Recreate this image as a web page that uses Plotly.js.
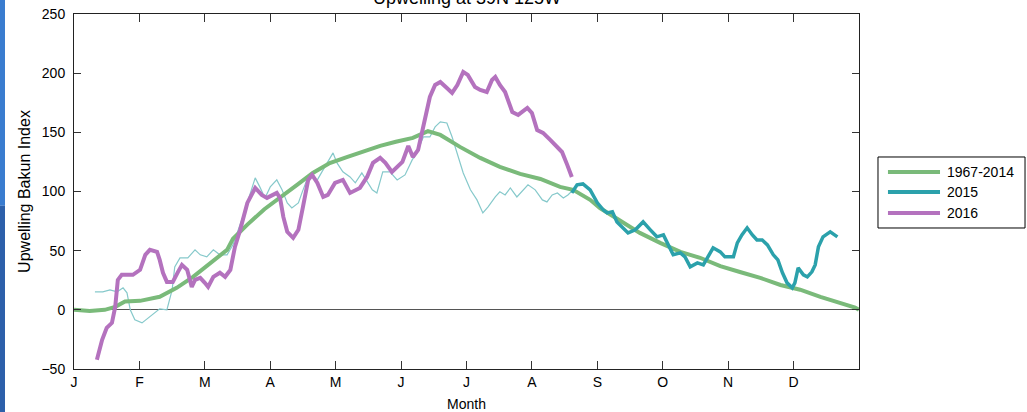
<!DOCTYPE html>
<html>
<head>
<meta charset="utf-8">
<script src="https://cdn.plot.ly/plotly-3.0.1.min.js"></script>
<style>
html,body{margin:0;padding:0;background:#fff;}
#chart{width:1027px;height:412px;}
</style>
</head>
<body>
<div id="chart"></div>
<script>
// Month tick labels (x is measured in months since 1 Jan)
const monthTicks = [0,1,2,3,4,5,6,7,8,9,10,11];
const monthLabels = ["J","F","M","A","M","J","J","A","S","O","N","D"];
const yTicks = [-50,0,50,100,150,200,250];

// 1967-2014 climatology
const climX = [0.00,0.24,0.47,0.63,0.78,1.01,1.31,1.57,1.82,2.08,2.34,2.43,2.65,2.91,3.15,3.41,3.65,3.91,4.17,4.42,4.68,4.92,5.18,5.41,5.60,5.90,6.21,6.51,6.82,7.13,7.43,7.63,7.89,8.04,8.35,8.65,8.96,9.27,9.57,9.88,10.18,10.49,10.80,11.10,11.41,11.71,11.94,12.0];
const climY = [0,-1,0,2.5,7,7.6,11,18.6,27.9,39.7,50.7,60,72,85,94.6,105.6,115.7,124,129,134,138.5,142,145.3,151,147.8,137.7,128.4,120.8,114.9,110.6,103.9,101.4,93,86,75,65,56.6,49,44,37,32,27,21,17,11,6,2,0];

// 2015, first part (thin line)
const y2015aX = [0.32,0.44,0.55,0.66,0.75,0.81,0.86,0.93,1.04,1.13,1.24,1.31,1.42,1.50,1.54,1.62,1.74,1.85,1.93,2.03,2.13,2.23,2.34,2.43,2.58,2.69,2.77,2.84,2.92,3.00,3.10,3.18,3.26,3.33,3.43,3.49,3.56,3.64,3.72,3.79,3.87,3.96,4.02,4.11,4.22,4.30,4.40,4.48,4.56,4.63,4.72,4.83,4.94,5.06,5.17,5.24,5.34,5.44,5.52,5.60,5.70,5.78,5.87,5.95,6.06,6.16,6.25,6.33,6.44,6.51,6.59,6.67,6.77,6.87,6.94,7.05,7.16,7.23,7.31,7.39,7.48,7.55,7.63];
const y2015aY = [15.2,15.2,16.9,15.2,18.6,14.4,0,-8.4,-11,-6.8,-1.7,0.8,0,16.9,36.3,43.9,43.9,50.7,46.5,44.8,50.7,46.5,46.5,54.9,78.5,98.8,111.5,103.9,94.6,103.9,109.8,101.4,90.4,86.1,90.4,99.7,109.8,112.3,109.8,116.6,124.2,132.6,124.2,116.6,112.3,107.3,115.7,108.1,101.4,98.8,116.6,116.6,109.8,114,126.7,132.6,146.1,146.1,154.6,158.8,157.9,146.1,129.2,115.7,101.4,92.9,81.9,87,95.4,99.7,97.1,103,95.4,101.4,105.6,101.4,92.9,91.2,97.1,98.8,94.6,97.1,101.4];

// 2015, second part (thick line)
const y2015bX = [7.61,7.69,7.78,7.89,8.00,8.09,8.15,8.23,8.30,8.38,8.47,8.58,8.70,8.81,8.91,9.01,9.08,9.16,9.27,9.34,9.42,9.53,9.62,9.69,9.77,9.88,9.95,10.08,10.14,10.21,10.29,10.37,10.44,10.52,10.60,10.69,10.76,10.83,10.90,10.98,11.02,11.07,11.15,11.21,11.28,11.33,11.38,11.45,11.56,11.67];
const y2015bY = [98.8,105.6,106.4,101.4,90.4,84.5,81.9,82.8,74.3,70.1,65,67.6,74.3,67.6,61.7,63.3,54.9,46.5,48.1,44.8,36.3,39.7,38,44.8,52.4,49,44.8,44.8,56.6,63.3,69.3,63.3,59.1,59.1,54.9,46.5,42.2,31.3,22.8,18.6,22.8,35.5,29.6,27.9,32.1,38,53.2,61.7,65.9,61.7];

// 2016
const y2016X = [0.35,0.43,0.50,0.58,0.63,0.67,0.73,0.90,1.01,1.09,1.16,1.27,1.31,1.36,1.42,1.51,1.59,1.65,1.73,1.80,1.85,1.93,2.00,2.05,2.13,2.23,2.31,2.39,2.46,2.54,2.65,2.77,2.87,2.95,3.10,3.15,3.20,3.26,3.35,3.43,3.50,3.58,3.64,3.72,3.81,3.88,3.99,4.11,4.22,4.30,4.37,4.48,4.57,4.68,4.76,4.86,4.94,5.02,5.11,5.18,5.26,5.34,5.44,5.52,5.60,5.70,5.78,5.86,5.95,6.02,6.13,6.21,6.31,6.39,6.44,6.51,6.59,6.70,6.79,6.93,7.00,7.08,7.17,7.28,7.35,7.46,7.54,7.61];
const y2016Y = [-42.2,-25.3,-15.2,-11,2.5,25.3,29.6,29.6,33.8,46.5,50.7,49,42.2,31.3,23.6,23.6,32.1,38,33.8,19.4,25.3,27,22.8,19.4,27.9,31.3,27.9,33.8,53.2,67.6,90.4,103,97.1,94.6,98.8,94.6,78.5,65.9,60.8,67.6,87,109.8,114,107.3,95.4,97.1,107.3,109.8,98.8,101.4,103,112.3,124.2,128.4,124.2,116.6,120.8,125,138.5,129.2,135.1,154.6,179.9,190,192.6,187.5,183.3,190,201,198.5,188.3,185.8,184.1,194.3,196.8,190,184.1,167.2,164.7,170.6,166.4,152,149.5,143.6,139.4,133.4,122.5,112.3];

const titleText = "Upwelling at 39N 125W";
const seriesNames = ["1967-2014","2015","2016"];
const colGreen = "#7aba7a", colTeal = "#2ba1ab", colTealThin = "#86c9cb", colPurple = "#b472be";
const seriesColors = [colGreen, colTeal, colPurple];

const traces = [
  {x:y2015aX, y:y2015aY, mode:"lines", line:{color:colTealThin, width:1.2}, showlegend:false, hoverinfo:"skip"},
  {x:climX, y:climY, mode:"lines", name:seriesNames[0], line:{color:colGreen, width:4}, showlegend:false},
  {x:y2016X, y:y2016Y, mode:"lines", name:seriesNames[2], line:{color:colPurple, width:4}, showlegend:false},
  {x:y2015bX, y:y2015bY, mode:"lines", name:seriesNames[1], line:{color:colTeal, width:3.5}, showlegend:false}
];

const FAM = "Arial, 'Liberation Sans', Helvetica, sans-serif";
const fontTick = {family:FAM, size:14, color:"#000"};

// Hand-drawn legend (box, line samples, labels) in paper coordinates
const legX0 = 1.0242, legX1 = 1.2115, legY0 = 0.3972, legY1 = 0.5972;
const legLineX0 = 1.0369, legLineX1 = 1.1032, legTextX = 1.1096;
const legRows = [0.5549, 0.4986, 0.4394];

const shapes = [
  {type:"rect", xref:"paper", yref:"paper", x0:-0.0943, x1:-0.0879, y0:0.46, y1:1.05, fillcolor:"#3a7ccf", line:{width:0}, layer:"above"},
  {type:"rect", xref:"paper", yref:"paper", x0:-0.0943, x1:-0.0879, y0:-0.13, y1:0.46, fillcolor:"#2d60aa", line:{width:0}, layer:"above"},
  {type:"rect", xref:"paper", yref:"paper", x0:legX0, x1:legX1, y0:legY0, y1:legY1, fillcolor:"#fff", line:{color:"#000", width:1}}
];
const annotations = [
  // chart title, partly cut off at the top edge as in the original image
  {xref:"paper", yref:"paper", x:0.5, y:1.045, xanchor:"center", yanchor:"middle", text:titleText, showarrow:false,
   font:{family:FAM, size:18, color:"#000"}}
];
seriesNames.forEach((nm, i) => {
  shapes.push({type:"line", xref:"paper", yref:"paper", x0:legLineX0, x1:legLineX1, y0:legRows[i], y1:legRows[i],
               line:{color:seriesColors[i], width:4}});
  annotations.push({xref:"paper", yref:"paper", x:legTextX, y:legRows[i], xanchor:"left", yanchor:"middle",
                    text:nm, showarrow:false, font:{family:FAM, size:14, color:"#000"}});
});

const layout = {
  width:1027, height:412,
  margin:{l:74, r:168, t:14, b:43},
  paper_bgcolor:"#fff", plot_bgcolor:"#fff",
  font:fontTick,
  xaxis:{range:[0,12], tickvals:monthTicks, ticktext:monthLabels, ticks:"inside", ticklen:8, tickcolor:"#333",
         showline:true, linecolor:"#222", linewidth:1, mirror:"ticks", showgrid:false, zeroline:false,
         tickfont:fontTick, title:{text:"Month", font:{family:FAM, size:14, color:"#000"}, standoff:11}, fixedrange:true},
  yaxis:{range:[-50,250], tickvals:yTicks, ticks:"inside", ticklen:7, tickcolor:"#333", ticklabelstandoff:5,
         showline:true, linecolor:"#222", linewidth:1, mirror:"ticks", showgrid:false,
         zeroline:true, zerolinecolor:"#555", zerolinewidth:1,
         tickfont:fontTick, title:{text:"Upwelling Bakun Index", font:{family:FAM, size:16, color:"#000"}, standoff:6}, fixedrange:true},
  shapes:shapes,
  annotations:annotations,
  showlegend:false
};

Plotly.newPlot("chart", traces, layout, {staticPlot:true, displayModeBar:false});
</script>
</body>
</html>
